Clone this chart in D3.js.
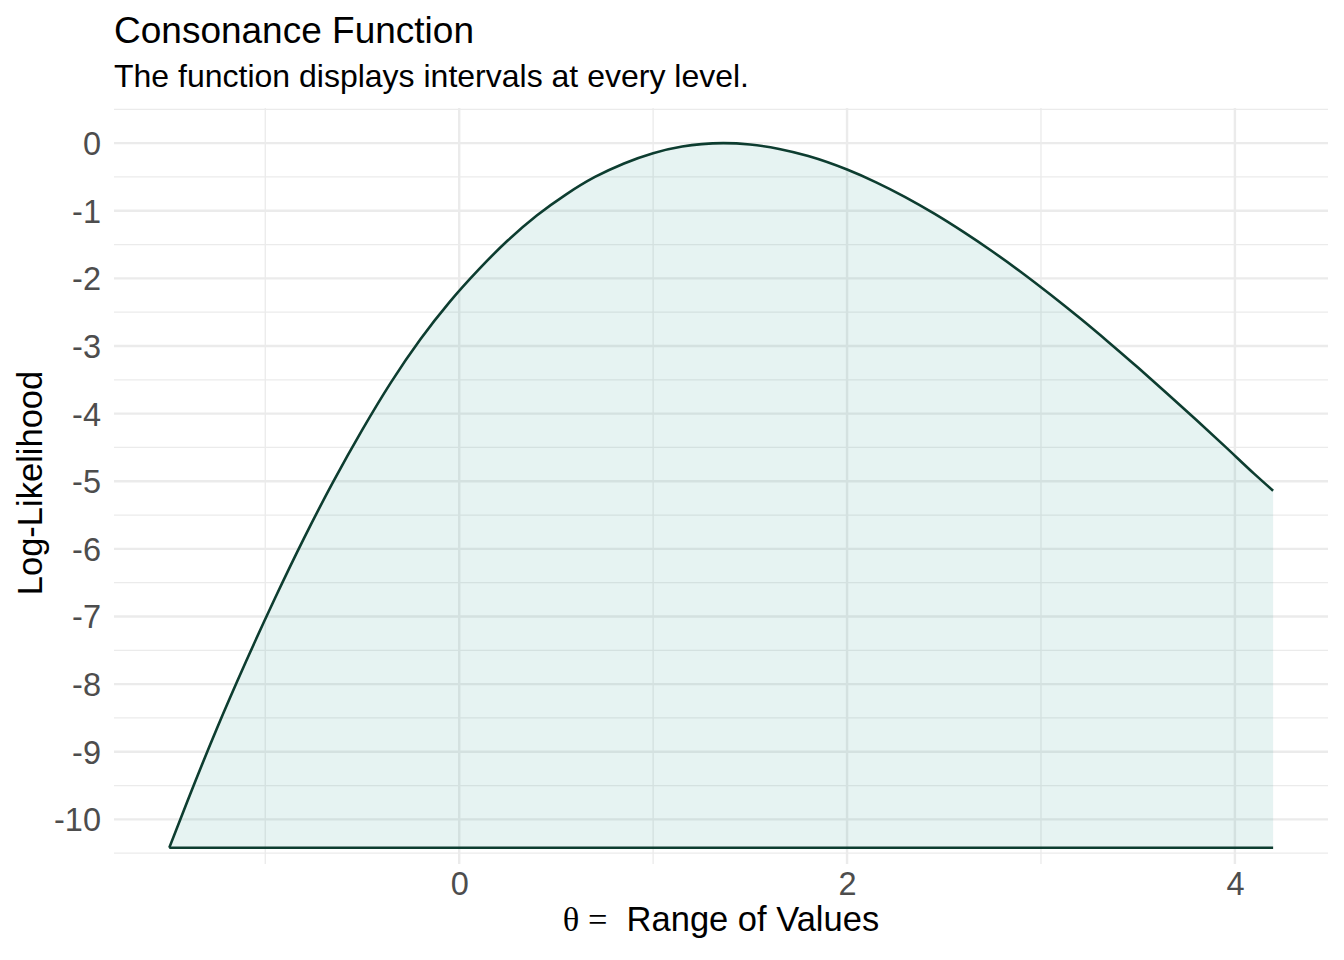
<!DOCTYPE html>
<html>
<head>
<meta charset="utf-8">
<script src="https://cdn.jsdelivr.net/npm/d3@7"></script>
<style>
  body { margin: 0; background: #fff; }
  text { font-family: "Liberation Sans", Arial, sans-serif; }
</style>
</head>
<body>
<svg id="chart" width="1344" height="960"></svg>
<script>
// values (hand-smoothed)
const thetaValues = [-1.495, -1.40, -1.25, -1.10, -0.95, -0.80, -0.65, -0.50, -0.35, -0.20,
                     -0.05, 0.10, 0.25, 0.40, 0.55, 0.70, 0.85, 1.00, 1.15, 1.25,
                     1.362, 1.50, 1.65, 1.80, 2.00, 2.15, 2.30, 2.45, 2.60, 2.75,
                     2.90, 3.05, 3.20, 3.35, 3.50, 3.65, 3.80, 3.95, 4.10, 4.197];
const logLikValues = [-10.42, -9.72, -8.66, -7.67, -6.73, -5.84, -5.01, -4.24, -3.53, -2.90,
                      -2.35, -1.87, -1.44, -1.07, -0.76, -0.50, -0.30, -0.148, -0.050, -0.014,
                      0, -0.020, -0.085, -0.19, -0.39, -0.579, -0.797, -1.042, -1.312, -1.602,
                      -1.912, -2.242, -2.587, -2.947, -3.319, -3.701, -4.091, -4.488, -4.891, -5.14];
const xTicks = [0, 2, 4];
const xMinorTicks = [-1, 1, 3];
const yTicks = [0, -1, -2, -3, -4, -5, -6, -7, -8, -9, -10];
const yMinorTicks = [0.5, -0.5, -1.5, -2.5, -3.5, -4.5, -5.5, -6.5, -7.5, -8.5, -9.5, -10.5];

const data = thetaValues.map((t, i) => ({theta: t, ll: logLikValues[i]}));
const floorLL = d3.min(logLikValues);

let panelLeft = 114, panelRight = 1328, panelTop = 108, panelBottom = 864;

let svg = d3.select("#chart");

let xScale = d3.scaleLinear().domain([-1.78, 4.48]).range([panelLeft, panelRight]);
let yScale = d3.scaleLinear().domain([-10.66, 0.52]).range([panelBottom, panelTop]);

// grid
let grid = svg.append("g");
grid.selectAll(".yminor").data(yMinorTicks).enter().append("line")
    .attr("x1", panelLeft).attr("x2", panelRight)
    .attr("y1", d => yScale(d)).attr("y2", d => yScale(d))
    .attr("stroke", "#ebebeb").attr("stroke-width", 1.3);
grid.selectAll(".xminor").data(xMinorTicks).enter().append("line")
    .attr("y1", panelTop).attr("y2", panelBottom)
    .attr("x1", d => xScale(d)).attr("x2", d => xScale(d))
    .attr("stroke", "#ebebeb").attr("stroke-width", 1.3);
grid.selectAll(".ymajor").data(yTicks).enter().append("line")
    .attr("x1", panelLeft).attr("x2", panelRight)
    .attr("y1", d => yScale(d)).attr("y2", d => yScale(d))
    .attr("stroke", "#ebebeb").attr("stroke-width", 2.4);
grid.selectAll(".xmajor").data(xTicks).enter().append("line")
    .attr("y1", panelTop).attr("y2", panelBottom)
    .attr("x1", d => xScale(d)).attr("x2", d => xScale(d))
    .attr("stroke", "#ebebeb").attr("stroke-width", 2.4);

// ribbon between the curve and its minimum
let area = d3.area()
    .x(d => xScale(d.theta))
    .y0(yScale(floorLL))
    .y1(d => yScale(d.ll))
    .curve(d3.curveMonotoneX);
svg.append("path").datum(data)
    .attr("d", area)
    .attr("fill", "#06877d").attr("fill-opacity", 0.1);

let upper = d3.line().x(d => xScale(d.theta)).y(d => yScale(d.ll)).curve(d3.curveMonotoneX);
let lower = d3.line().x(d => xScale(d.theta)).y(yScale(floorLL));
svg.append("path").datum(data).attr("d", upper)
    .attr("fill", "none").attr("stroke", "#0d3d30").attr("stroke-width", 2.6);
svg.append("path").datum(data).attr("d", lower)
    .attr("fill", "none").attr("stroke", "#0d3d30").attr("stroke-width", 2.6);

// axes (no domain, no ticks like theme_minimal)
let yAxis = svg.append("g")
    .attr("transform", "translate(" + (panelLeft - 6) + ",0)")
    .call(d3.axisLeft(yScale).tickValues(yTicks).tickSize(0).tickPadding(7).tickFormat(d => String(d)));
let xAxis = svg.append("g")
    .attr("transform", "translate(0," + panelBottom + ")")
    .call(d3.axisBottom(xScale).tickValues(xTicks).tickSize(0).tickPadding(8).tickFormat(d => String(d)));
[xAxis, yAxis].forEach(a => {
    a.select(".domain").remove();
    a.selectAll("text")
     .attr("fill", "#4d4d4d")
     .style("font-size", "32.5px")
     .style("font-family", "'Liberation Sans', Arial, sans-serif");
});
yAxis.selectAll("text").attr("dy", "0.35em");

// titles
svg.append("text").attr("x", panelLeft).attr("y", 43)
    .style("font-size", "37px").attr("fill", "#000").text("Consonance Function");
svg.append("text").attr("x", panelLeft).attr("y", 87)
    .style("font-size", "32px").attr("fill", "#000").text("The function displays intervals at every level.");

let xTitle = svg.append("text")
    .attr("x", (panelLeft + panelRight) / 2).attr("y", 931)
    .attr("text-anchor", "middle").style("font-size", "34.5px").attr("fill", "#000");
xTitle.append("tspan").style("font-family", "'Liberation Serif', 'DejaVu Serif', serif").text("\u03b8 =");
xTitle.append("tspan").text("\u00a0 Range of Values");

svg.append("text")
    .attr("transform", "translate(42,483) rotate(-90)")
    .attr("text-anchor", "middle").style("font-size", "34.5px").attr("fill", "#000")
    .text("Log-Likelihood");
</script>
</body>
</html>
